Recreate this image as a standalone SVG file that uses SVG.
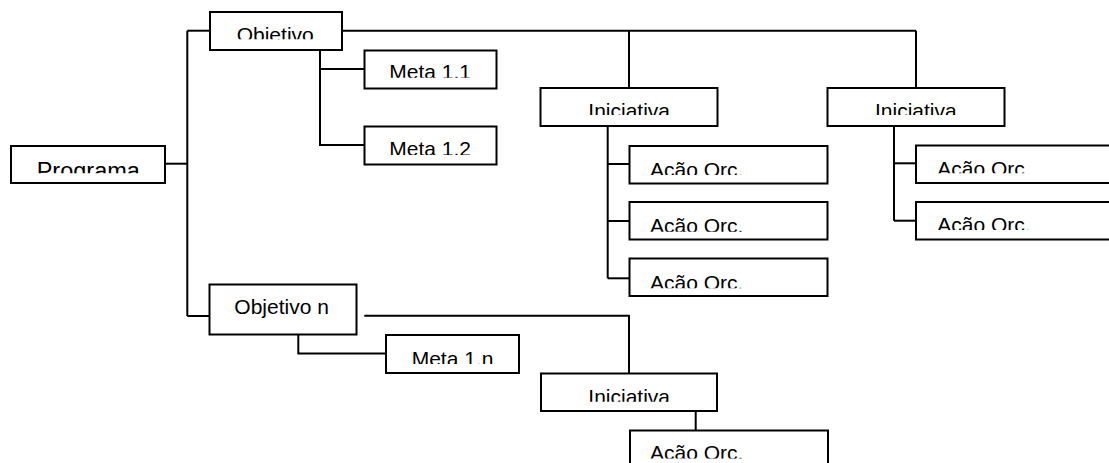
<svg xmlns="http://www.w3.org/2000/svg" width="1109" height="463" viewBox="0 0 1109 463">
<style>
.box{fill:#fff;stroke:#000;stroke-width:2}
.lbl{font-family:"Liberation Sans",Arial,sans-serif;font-size:21px;fill:#000}
.con{fill:none;stroke:#000;stroke-width:2}
</style>
<defs>
<clipPath id="cProg" clipPathUnits="userSpaceOnUse"><rect x="12" y="147" width="152" height="26.3"/></clipPath>
<clipPath id="cObj" clipPathUnits="userSpaceOnUse"><rect x="211" y="13" width="130" height="26.3"/></clipPath>
<clipPath id="cM11" clipPathUnits="userSpaceOnUse"><rect x="366" y="52" width="129" height="25.8"/></clipPath>
<clipPath id="cM12" clipPathUnits="userSpaceOnUse"><rect x="366" y="128" width="129" height="27"/></clipPath>
<clipPath id="cI1" clipPathUnits="userSpaceOnUse"><rect x="542" y="89" width="174" height="26"/></clipPath>
<clipPath id="cI2" clipPathUnits="userSpaceOnUse"><rect x="829" y="89" width="174" height="26"/></clipPath>
<clipPath id="cA11" clipPathUnits="userSpaceOnUse"><rect x="631" y="147" width="195" height="28"/></clipPath>
<clipPath id="cA12" clipPathUnits="userSpaceOnUse"><rect x="631" y="203" width="195" height="28.7"/></clipPath>
<clipPath id="cA13" clipPathUnits="userSpaceOnUse"><rect x="631" y="260" width="195" height="28.3"/></clipPath>
<clipPath id="cA21" clipPathUnits="userSpaceOnUse"><rect x="917" y="147" width="200" height="26.3"/></clipPath>
<clipPath id="cA22" clipPathUnits="userSpaceOnUse"><rect x="917" y="203" width="200" height="27"/></clipPath>
<clipPath id="cMn" clipPathUnits="userSpaceOnUse"><rect x="387" y="336" width="131" height="28"/></clipPath>
<clipPath id="cI3" clipPathUnits="userSpaceOnUse"><rect x="542" y="375" width="174" height="26.7"/></clipPath>
<clipPath id="cA3" clipPathUnits="userSpaceOnUse"><rect x="631" y="432" width="196" height="26.5"/></clipPath>
</defs>
<g id="connectors">
<path class="con" d="M165.7,163.7 H187.3"/>
<path class="con" d="M187.3,30.7 V316"/>
<path class="con" d="M187.3,30.7 H210"/>
<path class="con" d="M187.3,316 H209.5"/>
<path class="con" d="M342,30.7 H916"/>
<path class="con" d="M629,30.7 V88"/>
<path class="con" d="M916,30.7 V88"/>
<path class="con" d="M320,50 V145 H364.5"/>
<path class="con" d="M320,69 H364.5"/>
<path class="con" d="M607.7,126 V278.3"/>
<path class="con" d="M607.7,164 H629.5"/>
<path class="con" d="M607.7,221 H629.5"/>
<path class="con" d="M607.7,278.3 H629.5"/>
<path class="con" d="M894,126 V220.7"/>
<path class="con" d="M894,163.3 H916"/>
<path class="con" d="M894,220.7 H916"/>
<path class="con" d="M364.3,315.7 H629 V373.5"/>
<path class="con" d="M298.3,334.5 V353.5 H386"/>
<path class="con" d="M695.7,411 V430.5"/>
</g>
<g id="programa">
<rect class="box" x="11" y="146" width="154" height="37"/>
<text class="lbl" x="36.7" y="178.5" style="font-size:23.5px" clip-path="url(#cProg)">Programa</text>
</g>
<g id="objetivo">
<rect class="box" x="210" y="12" width="132" height="38"/>
<text class="lbl" x="236.7" y="41.7" clip-path="url(#cObj)">Objetivo</text>
</g>
<g id="meta11">
<rect class="box" x="364.5" y="50.5" width="132" height="38"/>
<text class="lbl" x="389.3" y="78.5" clip-path="url(#cM11)">Meta 1.1</text>
</g>
<g id="meta12">
<rect class="box" x="364.5" y="126.5" width="132" height="38"/>
<text class="lbl" x="389.3" y="155.7" clip-path="url(#cM12)">Meta 1.2</text>
</g>
<g id="iniciativa1">
<rect class="box" x="540.5" y="88" width="177" height="38"/>
<text class="lbl" x="588.3" y="118.3" clip-path="url(#cI1)">Iniciativa</text>
</g>
<g id="iniciativa2">
<rect class="box" x="827.5" y="88" width="177" height="38"/>
<text class="lbl" x="875" y="118.3" clip-path="url(#cI2)">Iniciativa</text>
</g>
<g id="acao11">
<rect class="box" x="629.5" y="146" width="198" height="37.5"/>
<text class="lbl" x="650" y="176.7" clip-path="url(#cA11)">Ação Orç.</text>
</g>
<g id="acao12">
<rect class="box" x="629.5" y="202" width="198" height="37.5"/>
<text class="lbl" x="650" y="232.7" clip-path="url(#cA12)">Ação Orç.</text>
</g>
<g id="acao13">
<rect class="box" x="629.5" y="258.5" width="198" height="37.5"/>
<text class="lbl" x="650" y="290" clip-path="url(#cA13)">Ação Orç.</text>
</g>
<g id="acao21">
<rect class="box" x="916" y="145.5" width="220" height="37.5"/>
<text class="lbl" x="937.3" y="175.7" clip-path="url(#cA21)">Ação Orç.</text>
</g>
<g id="acao22">
<rect class="box" x="916" y="202" width="220" height="37.5"/>
<text class="lbl" x="937.3" y="232.3" clip-path="url(#cA22)">Ação Orç.</text>
</g>
<g id="objetivon">
<rect class="box" x="209.5" y="284.5" width="147" height="50"/>
<text class="lbl" x="234.3" y="314.3">Objetivo n</text>
</g>
<g id="meta1n">
<rect class="box" x="386" y="335" width="133" height="38"/>
<text class="lbl" x="411.7" y="366" clip-path="url(#cMn)">Meta 1.n</text>
</g>
<g id="iniciativa3">
<rect class="box" x="541" y="373.5" width="176" height="37.5"/>
<text class="lbl" x="588.3" y="404.3" clip-path="url(#cI3)">Iniciativa</text>
</g>
<g id="acao3">
<rect class="box" x="630" y="430.5" width="198" height="40"/>
<text class="lbl" x="650" y="460" clip-path="url(#cA3)">Ação Orç.</text>
</g>
</svg>
